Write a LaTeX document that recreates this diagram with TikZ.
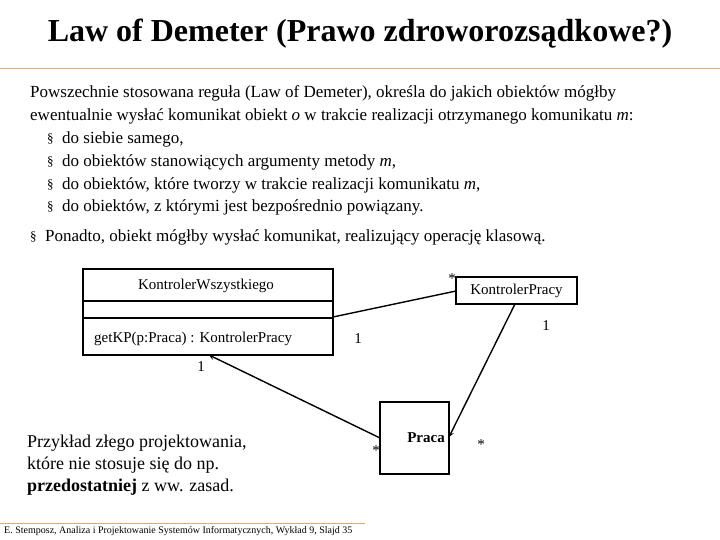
\documentclass[tikz,border=0pt]{standalone}
\usepackage{fontspec}
\setmainfont{Liberation Serif}
\definecolor{rule}{HTML}{D4B070}
\begin{document}
\begin{tikzpicture}[x=1pt,y=-1pt,
  txt/.style={anchor=west,inner sep=0,font=\fontsize{17}{19}\selectfont},
  bul/.style={anchor=west,inner sep=0,font=\fontsize{13}{14}\selectfont},
  lab/.style={inner sep=0,font=\fontsize{15}{17}\selectfont},
  cls/.style={draw,line width=1.2pt},
  con/.style={line width=1.4pt}]
\useasboundingbox (0,0) rectangle (720,540);
\node[inner sep=0,font=\fontsize{32}{34}\bfseries\selectfont] (title) at (360,34) {Law of Demeter (Prawo zdroworozsądkowe?)};
\draw[rule,line width=1pt] (0,69) -- (720,69);
\node[txt] (l1) at (30,93) {Powszechnie stosowana reguła (Law of Demeter), określa do jakich obiektów mógłby};
\node[txt] (l2) at (30,116) {ewentualnie wysłać komunikat obiekt \textit{o} w trakcie realizacji otrzymanego komunikatu \textit{m}:};
\node[bul] (b1) at (47,139) {§};
\node[txt] (t1) at (62,139) {do siebie samego,};
\node[bul] (b2) at (47,162) {§};
\node[txt] (t2) at (62,162) {do obiektów stanowiących argumenty metody \textit{m},};
\node[bul] (b3) at (47,185) {§};
\node[txt] (t3) at (62,185) {do obiektów, które tworzy w trakcie realizacji komunikatu \textit{m},};
\node[bul] (b4) at (47,207) {§};
\node[txt] (t4) at (62,207) {do obiektów, z którymi jest bezpośrednio powiązany.};
\node[bul] (b5) at (30,237) {§};
\node[txt] (t5) at (45,237) {Ponadto, obiekt mógłby wysłać komunikat, realizujący operację klasową.};
% classes
\draw[cls] (83,269) rectangle (333,355);
\draw[cls] (83,301) -- (333,301) (83,318) -- (333,318);
\node[inner sep=0,font=\fontsize{15}{16}\selectfont] (kwn) at (206,286) {KontrolerWszystkiego};
\node[inner sep=0,anchor=west,font=\fontsize{15}{16}\selectfont] (kwm) at (94,339) {getKP(p:Praca) : KontrolerPracy};
\coordinate (kwr) at (333,317);
\coordinate (kwb) at (209,355);
\node[cls,minimum width=121pt,minimum height=27pt,inner sep=0,font=\fontsize{15}{16}\selectfont] (kp) at (516.5,290.5) {KontrolerPracy};
\node[cls,minimum width=69pt,minimum height=72pt,inner sep=0] (pr) at (414.5,438) {};
\node[inner sep=0,font=\fontsize{15}{17}\bfseries\selectfont] (prn) at (426,438) {Praca};
\coordinate (kpb) at (515,304);
\coordinate (prr) at (449,437);
\coordinate (prl) at (380,438);
\coordinate (kpl) at (456,291);
\draw[con] (kwr) -- (kpl);
\draw[con,-stealth] (kpb) -- (prr);
\draw[con,-stealth] (prl) -- (kwb);
\node[lab] (m1) at (452,279) {*};
\node[lab] (m2) at (546,326) {1};
\node[lab] (m3) at (358,339) {1};
\node[lab] (m4) at (201,367) {1};
\node[lab] (m5) at (376,451) {*};
\node[lab] (m6) at (481,445) {*};
\node[txt,align=left,font=\fontsize{18}{22}\selectfont] (ex) at (27,465) {Przykład złego projektowania,\\które nie stosuje się do np.\\\textbf{przedostatniej} z ww. zasad.};
\draw[rule,line width=1pt] (0,523) -- (365,523);
\node[inner sep=0,anchor=west,font=\fontsize{10}{11}\selectfont] (foot) at (4,531) {E. Stemposz, Analiza i Projektowanie Systemów Informatycznych, Wykład 9, Slajd 35};
\end{tikzpicture}
\end{document}
